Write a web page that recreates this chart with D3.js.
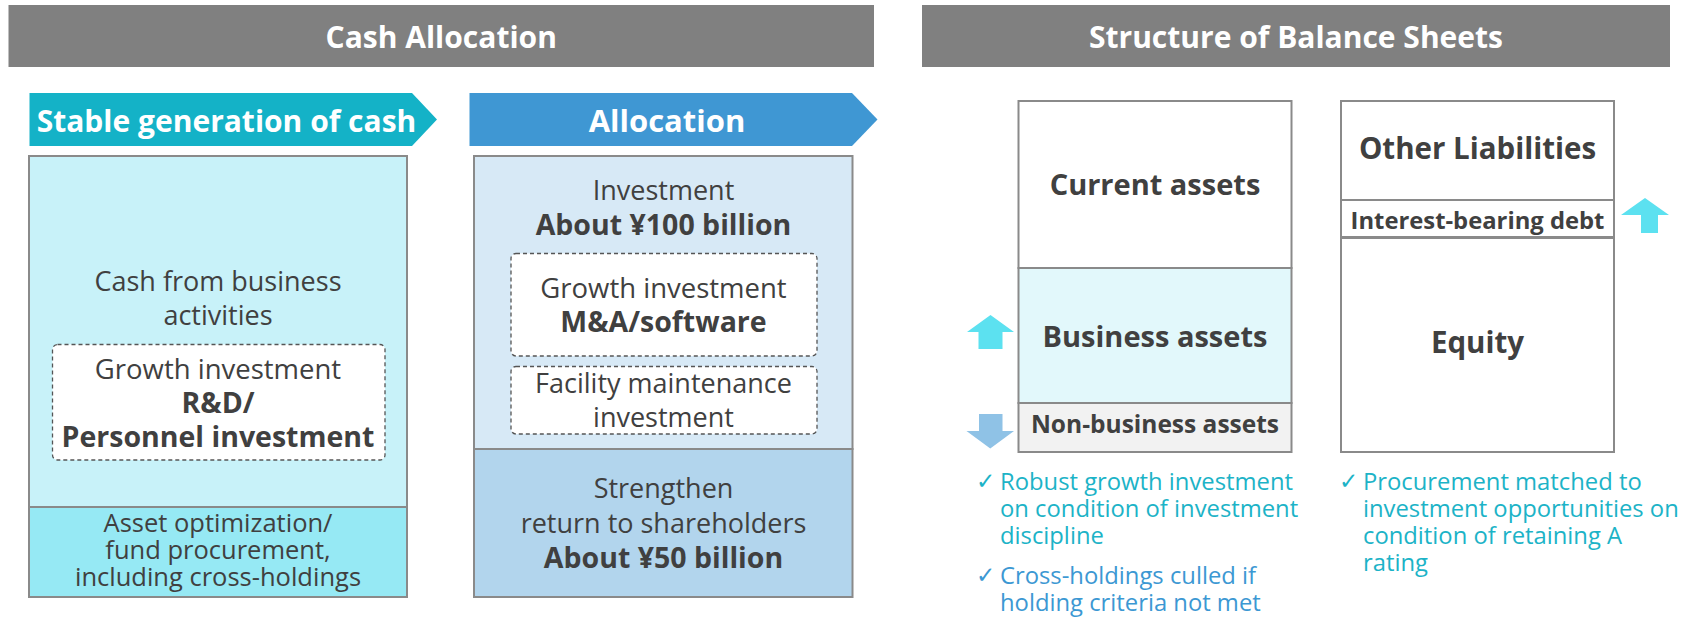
<!DOCTYPE html>
<html><head><meta charset="utf-8">
<script src="https://cdn.jsdelivr.net/npm/d3@7"></script>
<style>
html,body{margin:0;padding:0;background:#fff;}
svg{display:block;font-family:"Open Sans","Noto Sans",sans-serif;}
</style></head>
<body><svg id="c" width="1685" height="617"></svg>
<script>
// ---- content ----
const headers = ["Cash Allocation", "Structure of Balance Sheets"];
const flowArrows = ["Stable generation of cash", "Allocation"];
const cashLines = ["Cash from business", "activities"];
const growthRD = ["Growth investment", "R&D/", "Personnel investment"];
const assetOpt = ["Asset optimization/", "fund procurement,", "including cross-holdings"];
const investLines = ["Investment", "About ¥100 billion"];
const growthMA = ["Growth investment", "M&A/software"];
const facilityLines = ["Facility maintenance", "investment"];
const returnLines = ["Strengthen", "return to shareholders", "About ¥50 billion"];
const assetBlocks = ["Current assets", "Business assets", "Non-business assets"];
const liabBlocks = ["Other Liabilities", "Interest-bearing debt", "Equity"];
const noteA = ["Robust growth investment", "on condition of investment", "discipline"];
const noteB = ["Cross-holdings culled if", "holding criteria not met"];
const noteC = ["Procurement matched to", "investment opportunities on", "condition of retaining A", "rating"];

const svg = d3.select("#c");
const TXT = "#404040", BORDER = "#8a8a8a";

// one <text> per block, one <tspan> per line
function lines(arr, x, ys, sizes, weights, fill, anchor) {
  const t = svg.append("text").attr("text-anchor", anchor || "middle").attr("fill", fill || TXT);
  arr.forEach((s, i) => {
    t.append("tspan").attr("x", x).attr("y", ys[i])
      .attr("font-size", Array.isArray(sizes) ? sizes[i] : sizes)
      .attr("font-weight", weights ? weights[i] : 400).text(s);
  });
  return t;
}
function rect(x0, y0, x1, y1, fill, stroke, sw, dash, r) {
  const e = svg.append("rect").attr("x", x0).attr("y", y0)
    .attr("width", x1 - x0).attr("height", y1 - y0)
    .attr("fill", fill).attr("stroke", stroke || "none").attr("stroke-width", sw || 0);
  if (dash) e.attr("stroke-dasharray", dash);
  if (r) e.attr("rx", r).attr("ry", r);
  return e;
}

// ---- headers ----
const hdr = [[8.5, 874], [922, 1670]];
hdr.forEach((h, i) => {
  rect(h[0], 5, h[1], 67, "#808080");
  svg.append("text").attr("x", (h[0] + h[1]) / 2).attr("y", 47.5)
    .attr("text-anchor", "middle").attr("font-size", 30).attr("font-weight", 700)
    .attr("fill", "#fff").text(headers[i]);
});

// ---- flow arrows ----
const arrowGeo = [{x0: 29.5, x1: 412, tip: 437, col: "#14b2c7", cx: 226.5, fs: 30},
                  {x0: 469.5, x1: 852, tip: 877.5, col: "#3f97d3", cx: 667, fs: 31}];
arrowGeo.forEach((a, i) => {
  const y0 = 93, y1 = 146, ym = (y0 + y1) / 2;
  svg.append("path").attr("d", d3.line()([[a.x0, y0], [a.x1, y0], [a.tip, ym], [a.x1, y1], [a.x0, y1]]) + "Z")
    .attr("fill", a.col);
  svg.append("text").attr("x", a.cx).attr("y", 131.5)
    .attr("text-anchor", "middle").attr("font-size", a.fs).attr("font-weight", 700)
    .attr("fill", "#fff").text(flowArrows[i]);
});

// ---- left column ----
rect(29, 156, 407, 507, "#c8f2f9", BORDER, 2);
rect(29, 507, 407, 597, "#96e9f4", BORDER, 2);
const cxL = 218;
lines(cashLines, cxL, [290.5, 325], 27);
rect(52.5, 344.5, 385, 460, "#fff", "#555", 1.3, "4,3", 5);
lines(growthRD, cxL, [379, 413, 447], [27.5, 28.5, 28.5], [400, 700, 700]);
lines(assetOpt, cxL, [532, 559, 586], 25.5);

// ---- allocation column ----
rect(474, 156, 852.5, 449, "#d7e9f6", BORDER, 2);
rect(474, 449, 852.5, 597, "#b2d5ed", BORDER, 2);
const cxA = 663.5;
lines(investLines, cxA, [200, 235], [27, 28.5], [400, 700]);
rect(511, 253.5, 817, 356, "#fff", "#555", 1.3, "4,3", 5);
lines(growthMA, cxA, [297.5, 331.5], [27.5, 28.5], [400, 700]);
rect(511, 366.5, 817, 434, "#fff", "#555", 1.3, "4,3", 5);
lines(facilityLines, cxA, [393, 427], 27);
lines(returnLines, cxA, [498, 533, 568], [27, 27, 28.5], [400, 400, 700]);

// ---- balance sheet ----
const assetY = [101, 268, 403, 452];
const assetFill = ["#ffffff", "#e2f8fb", "#f2f2f2"];
const assetSize = [29, 29, 24.5];
const assetBase = [195, 346.5, 433];
assetBlocks.forEach((t, i) => {
  rect(1018.5, assetY[i], 1291.5, assetY[i + 1], assetFill[i], BORDER, 2);
});
assetBlocks.forEach((t, i) => {
  svg.append("text").attr("x", 1155).attr("y", assetBase[i]).attr("text-anchor", "middle")
    .attr("font-size", assetSize[i]).attr("font-weight", 700).attr("fill", TXT).text(t);
});
const liabY = [[101, 200], [200, 237], [238, 452]];
const liabSize = [29.5, 23.8, 29.5];
const liabBase = [159, 229, 353];
liabBlocks.forEach((t, i) => rect(1341, liabY[i][0], 1614, liabY[i][1], "#fff", BORDER, 2));
liabBlocks.forEach((t, i) => {
  svg.append("text").attr("x", 1477.5).attr("y", liabBase[i]).attr("text-anchor", "middle")
    .attr("font-size", liabSize[i]).attr("font-weight", 700).attr("fill", TXT).text(t);
});

// block arrows
function upArrow(x0, x1, y0, yh, y1, s0, s1, col) {
  const xm = (x0 + x1) / 2;
  svg.append("path").attr("d", d3.line()([[xm, y0], [x1, yh], [s1, yh], [s1, y1], [s0, y1], [s0, yh], [x0, yh]]) + "Z")
    .attr("fill", col);
}
function downArrow(x0, x1, y0, yh, y1, s0, s1, col) {
  const xm = (x0 + x1) / 2;
  svg.append("path").attr("d", d3.line()([[s0, y0], [s1, y0], [s1, yh], [x1, yh], [xm, y1], [x0, yh], [s0, yh]]) + "Z")
    .attr("fill", col);
}
upArrow(967, 1014, 315, 332, 349, 978.5, 1002.5, "#5ce1f0");
downArrow(966.5, 1014, 414, 431, 448.5, 979, 1002.5, "#8fc2e6");
upArrow(1621, 1669, 198, 215, 233, 1641, 1658, "#5ce1f0");

// ---- notes ----
function note(arr, x, y0, col) {
  const ys = arr.map((d, i) => y0 + i * 27);
  const t = svg.append("text").attr("fill", col).attr("text-anchor", "start");
  t.append("tspan").attr("x", x - 24).attr("y", y0 - 1).attr("font-size", 23)
    .attr("font-family", "DejaVu Sans").text("✓");
  arr.forEach((s, i) => t.append("tspan").attr("x", x).attr("y", ys[i]).attr("font-size", 23.8).text(s));
}
note(noteA, 1000, 490, "#1cb3c7");
note(noteB, 1000, 584, "#3c98d3");
note(noteC, 1363, 490, "#1cb3c7");
</script></body></html>
